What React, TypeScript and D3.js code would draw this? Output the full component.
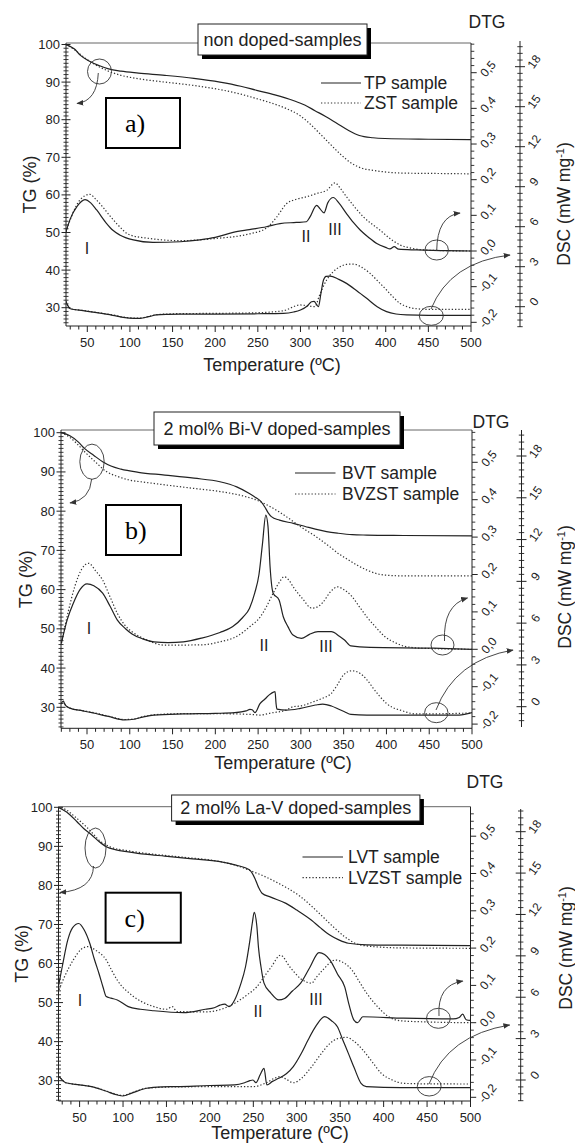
import * as d3 from 'd3'

type Pt = [number, number]

// ---- tick labels ----
const xTickVals = [50, 100, 150, 200, 250, 300, 350, 400, 450, 500]
const tgTickVals = [30, 40, 50, 60, 70, 80, 90, 100]
const dtgTickVals = [-0.2, -0.1, 0, 0.1, 0.2, 0.3, 0.4, 0.5]
const dscTickVals = [0, 3, 6, 9, 12, 15, 18]

// ---- panel a) non doped ----
const titleA = 'non doped-samples'
const legendA = ['TP sample', 'ZST sample']
const tgA_TP: Pt[] = [[25,100],[35,98.8],[42,97.1],[52,95.6],[63.7,94.4],[75,93.5],[89.5,92.9],[110,92.4],[141,91.8],[175,91],[205.6,90],[230,88.9],[248.6,87.8],[270,86.6],[291.5,85.1],[305,83.9],[317,82.4],[330,80.8],[343,79],[356,77.2],[369,75.8],[385,75.2],[399,75.0],[450,74.8],[500,74.7]]
const tgA_ZST: Pt[] = [[25,100],[35,98.6],[45,96.8],[55,95.2],[63.7,94.1],[75,92.9],[89.5,91.8],[110,90.9],[141,90.0],[175,89.1],[205.6,88],[230,86.8],[248.6,85.6],[265,84.5],[283,83],[300,81],[313,78.5],[324,76],[334,73.7],[347,70.8],[360,68.4],[372,67.1],[386,66.5],[420,65.8],[460,65.7],[500,65.6]]
const dtgA_TP: Pt[] = [[25,0.054],[30,0.09],[38,0.125],[47.3,0.144],[54,0.135],[61,0.115],[72.7,0.077],[80,0.058],[88,0.045],[104,0.031],[127,0.024],[159,0.026],[182,0.031],[200,0.038],[221,0.052],[240,0.06],[260,0.068],[276,0.077],[295,0.08],[307,0.082],[311,0.095],[319,0.128],[323,0.118],[327.6,0.107],[332,0.135],[338.5,0.15],[345,0.135],[354,0.105],[362,0.08],[370,0.059],[380,0.038],[389.5,0.021],[400,0.01],[405,0.006],[410,0.012],[415,0.005],[436,0.003],[470,0.001],[500,0]]
const dtgA_ZST: Pt[] = [[25,0.054],[32,0.1],[42,0.145],[53,0.159],[60,0.145],[68,0.124],[76,0.1],[84.4,0.077],[100,0.045],[123.5,0.035],[159,0.029],[200,0.035],[240,0.048],[260,0.064],[272,0.095],[283.8,0.133],[295,0.145],[307,0.152],[320,0.162],[330.7,0.17],[340.5,0.191],[347,0.175],[354,0.152],[363,0.125],[373.7,0.096],[393,0.059],[405,0.035],[416.7,0.017],[430,0.008],[444,0.003],[470,0.001],[500,0]]
const dscA_TP: Pt[] = [[25,0.4],[27,0.1],[30,-0.15],[45,-0.3],[61,-0.45],[80,-0.65],[92,-0.8],[105,-0.87],[112,-0.87],[122,-0.75],[131,-0.62],[145,-0.57],[159,-0.55],[200,-0.55],[250,-0.53],[280,-0.5],[292,-0.4],[300,-0.25],[308,0.05],[313,0.37],[316,0.4],[319,0.15],[321,0],[324,1.0],[327,2.0],[330,2.28],[334.6,2.3],[345,2.05],[354,1.75],[366,1.2],[377.6,0.63],[390,0],[401,-0.37],[412,-0.55],[424.6,-0.62],[450,-0.65],[500,-0.65]]
const dscA_ZST: Pt[] = [[25,0.4],[27,0.1],[30,-0.15],[45,-0.28],[61,-0.43],[80,-0.62],[92,-0.78],[105,-0.85],[112,-0.85],[122,-0.72],[131,-0.6],[159,-0.52],[200,-0.5],[250,-0.45],[280,-0.3],[299.5,0.13],[310,0.05],[317,0],[322,0.8],[330.7,2.0],[338,2.6],[346.4,3.0],[354,3.17],[362,3.2],[372,2.95],[381.6,2.5],[391,1.9],[401,1.25],[409,0.7],[416.7,0.25],[425,0],[432,-0.12],[450,-0.2],[500,-0.2]]

// ---- panel b) Bi-V doped ----
const titleB = '2 mol% Bi-V doped-samples'
const legendB = ['BVT sample', 'BVZST sample']
const tgB_BVT: Pt[] = [[20,100],[30,99.2],[40,97.6],[47,96.0],[58,94.2],[68.3,92.6],[78,91.5],[89.7,90.7],[110,89.9],[141,89.2],[175,88.4],[205.4,87.5],[225,86.2],[239.8,84.5],[247,83.5],[252.6,82.6],[258,81],[262,79.5],[265.5,78.6],[275,77.7],[291.2,76.9],[305,76.1],[316.9,75.4],[330,74.8],[342.6,74.4],[360,74.0],[377,73.9],[420,73.8],[500,73.7]]
const tgB_BVZST: Pt[] = [[20,100],[30,98.8],[40,96.8],[47,95.2],[60,92.5],[72.6,90.1],[85,88.9],[98.3,88.0],[120,87.3],[141,86.7],[175,85.8],[205.4,85.0],[230,84],[248.4,82.8],[262,81.4],[274,79.9],[287,78.0],[299.8,76.0],[317,73.6],[334,70.9],[345,69.0],[355.5,67.6],[366,66.2],[377,65.0],[390,64.0],[398,63.7],[420,63.5],[500,63.5]]
const dtgB_BVT: Pt[] = [[20,0.016],[27,0.08],[34,0.123],[42,0.16],[50,0.175],[58,0.17],[68.3,0.15],[77,0.115],[85.5,0.078],[95,0.055],[102.6,0.041],[115,0.028],[128.3,0.02],[145,0.018],[162.6,0.02],[184,0.03],[205.4,0.045],[220,0.06],[232,0.085],[240,0.11],[246,0.15],[251,0.2],[255,0.28],[259,0.359],[261.5,0.33],[264,0.22],[267.6,0.15],[274.5,0.132],[279.4,0.087],[285,0.06],[290.8,0.038],[300.6,0.029],[310,0.04],[320,0.047],[335.6,0.047],[345,0.035],[351,0.025],[358.5,0.009],[381,0.005],[454.7,0.003],[500,0]]
const dtgB_BVZST: Pt[] = [[20,0.016],[28,0.1],[36,0.17],[44,0.215],[52,0.23],[60,0.21],[68.3,0.185],[77,0.14],[85.5,0.096],[94,0.065],[102.6,0.047],[120,0.025],[141,0.011],[184,0.012],[205.4,0.02],[227,0.037],[240,0.06],[252.6,0.087],[260,0.115],[267.6,0.15],[275,0.18],[280.5,0.194],[286,0.185],[291,0.167],[302,0.135],[312.6,0.11],[318,0.112],[325.5,0.125],[335,0.155],[342.7,0.167],[350,0.16],[359.8,0.141],[368,0.115],[377,0.087],[388,0.058],[398,0.034],[410,0.018],[419.8,0.009],[440,0.003],[500,0]]
const dscB_BVT: Pt[] = [[20,0.2],[22,0.4],[25,0.1],[30,-0.1],[45,-0.3],[55.5,-0.43],[75,-0.7],[94,-0.95],[105,-0.9],[115,-0.75],[128,-0.6],[162.6,-0.52],[200,-0.48],[222.6,-0.43],[236,-0.3],[240.5,-0.19],[243,-0.22],[246.3,-0.43],[252,0.2],[258,0.55],[263,0.85],[268,1.05],[269.8,1.08],[271,0.2],[272,-0.17],[283,-0.25],[299.5,-0.12],[317,0.12],[325.5,0.19],[335.6,0.05],[345,-0.2],[351,-0.36],[358.5,-0.55],[377,-0.6],[485,-0.6],[500,-0.43]]
const dscB_BVZST: Pt[] = [[20,0.2],[22,0.4],[25,0.1],[30,-0.1],[45,-0.28],[55.5,-0.4],[75,-0.68],[94,-0.92],[105,-0.88],[115,-0.72],[128,-0.58],[162.6,-0.5],[200,-0.5],[240,-0.55],[252,-0.6],[265,-0.45],[283,-0.24],[291,0.0],[299.5,0.05],[315,0.36],[325,0.6],[335.6,0.96],[343,1.6],[349.8,2.28],[359.4,2.58],[369,2.4],[377,1.95],[384.6,1.32],[392,0.75],[400,0.24],[407,-0.05],[415.8,-0.24],[435,-0.52],[470,-0.5],[500,-0.45]]

// ---- panel c) La-V doped ----
const titleC = '2 mol% La-V doped-samples'
const legendC = ['LVT sample', 'LVZST sample']
const tgC_LVT: Pt[] = [[25,100],[35,98.8],[47,96.3],[55,94.5],[64,92.9],[72,91.3],[80.7,89.9],[92,89.1],[106,88.6],[125,88.0],[148,87.5],[180,86.8],[211.6,86.1],[230,85.2],[245.5,84.0],[251.8,81.8],[256,79.5],[260,78.0],[270,77.0],[287.6,75.4],[300,73.7],[317,71.1],[327,69.2],[338,67.3],[349,66.0],[359.4,65.2],[380.5,64.8],[420,64.7],[500,64.6]]
const tgC_LVZST: Pt[] = [[25,100],[35,99.3],[45,97.5],[55.4,95.5],[64,93.6],[72.3,91.6],[85,89.9],[105,88.9],[127,88.2],[170,87.2],[211.6,86.1],[232,85],[249.6,83.5],[262,82.4],[275,81.0],[290,79.2],[304.5,77.1],[317,74.7],[329.8,72.0],[342,69.4],[355,66.9],[367,65.2],[380.5,64.5],[420,64.0],[500,63.9]]
const dtgC_LVT: Pt[] = [[25,0.09],[30,0.15],[36.4,0.222],[42,0.255],[49,0.266],[55,0.25],[61.7,0.213],[67,0.17],[72.3,0.132],[77,0.095],[80.7,0.07],[86,0.066],[93.4,0.061],[106,0.043],[120,0.036],[135.6,0.032],[169.5,0.027],[194.8,0.036],[205,0.04],[211.6,0.047],[217,0.05],[222,0.043],[228.5,0.061],[235,0.1],[241,0.15],[246,0.22],[249,0.27],[251,0.296],[254,0.26],[256,0.2],[258.8,0.15],[262.3,0.106],[270,0.08],[279.2,0.061],[286,0.065],[295,0.085],[304.5,0.106],[315,0.148],[325.6,0.188],[332,0.183],[338.3,0.168],[347,0.13],[355.2,0.096],[360,0.05],[365.8,0.007],[370,0],[376,0.016],[422.7,0.012],[480,0.01],[487,0.014],[491,0.023],[495,0.008],[500,0.006]]
const dtgC_LVZST: Pt[] = [[25,0.08],[32,0.12],[42.7,0.168],[52,0.197],[59.7,0.204],[68,0.195],[80.7,0.168],[87,0.14],[93.4,0.114],[110,0.074],[135.6,0.043],[150,0.036],[156.7,0.043],[162,0.03],[194.8,0.029],[228.5,0.052],[243,0.075],[253.9,0.096],[263,0.125],[270.8,0.15],[281.3,0.181],[291.9,0.15],[304.5,0.118],[317.2,0.106],[322,0.12],[329.8,0.141],[344.5,0.168],[352,0.163],[363.6,0.141],[372,0.11],[380.5,0.079],[393,0.043],[405.8,0.016],[420,0.005],[450,0.002],[500,0]]
const dscC_LVT: Pt[] = [[25,0.3],[27,0.2],[34,-0.2],[50,-0.35],[64,-0.48],[80,-0.8],[93.4,-1.09],[99.8,-1.16],[110,-0.95],[127,-0.6],[145,-0.5],[162,-0.48],[200,-0.4],[228.5,-0.36],[240,-0.2],[246,-0.05],[249.6,0],[253,-0.2],[258,0.4],[262.3,0.85],[265.6,-0.36],[272,-0.1],[279.2,0.12],[288,0.45],[296,0.97],[305,1.9],[313,2.9],[322,3.9],[332,4.59],[340,4.3],[346.8,3.86],[353,2.9],[359.4,1.93],[366,0.9],[374,-0.24],[380,-0.48],[420,-0.55],[500,-0.55]]
const dscC_LVZST: Pt[] = [[25,0.3],[27,0.2],[34,-0.2],[50,-0.35],[64,-0.48],[80,-0.78],[93.4,-1.05],[99.8,-1.12],[110,-0.92],[127,-0.6],[162,-0.5],[228.5,-0.48],[249.6,-0.48],[265,-0.2],[275,0.15],[281,0.24],[288,0.05],[296,-0.2],[305,0.1],[317.2,0.97],[328,1.9],[338.3,2.66],[347,3.0],[357.4,3.09],[366,2.8],[376.2,2.17],[387,1.3],[397.4,0.48],[410,0],[422.7,-0.24],[450,-0.28],[500,-0.29]]

const romans = ['I', 'II', 'III']

type Box = { x: number; y: number; w: number; h: number }
type Layout = {
  left: number; right: number; top: number; bottom: number
  x50: number; x500: number; tg30: number; tg100: number
  dtg0: number; dtg05: number; dsc0: number; dsc18: number
  dscX: number; dscTop: number; dscBottom: number
  titleBox: Box; letterBox: Box
  legX1: number; legX2: number; legY: [number, number]; legTx: number
  dtgLab: [number, number]; tempLab: [number, number]; tgLabX: number; dscLab: [number, number]
  romanPos: Pt[]
  ell: { cx: number; cy: number; rx: number; ry: number }[]
  arrows: string[]
}

const layA: Layout = {
  left: 66, right: 471, top: 43, bottom: 326,
  x50: 87.3, x500: 471, tg30: 307.7, tg100: 44.5,
  dtg0: 251, dtg05: 72.7, dsc0: 306.7, dsc18: 66.7,
  dscX: 520, dscTop: 41, dscBottom: 327,
  titleBox: { x: 198, y: 24, w: 169, h: 31 }, letterBox: { x: 106, y: 98, w: 74, h: 50 },
  legX1: 321, legX2: 361, legY: [83, 103], legTx: 364,
  dtgLab: [487, 28], tempLab: [272, 371], tgLabX: 30, dscLab: [564, 204],
  romanPos: [[87, 248], [306, 236], [335, 229]],
  ell: [{ cx: 99.5, cy: 71.5, rx: 12, ry: 12.5 }, { cx: 436.7, cy: 250, rx: 11.7, ry: 10 }, { cx: 431.3, cy: 315.8, rx: 12, ry: 9.5 }],
  arrows: ['M98.3,73 Q97,101 77,103.5', 'M436.7,251 Q437,216 460,213', 'M431,309 Q450,262 510,255'],
}
const layB: Layout = {
  left: 61, right: 472, top: 430, bottom: 728.3,
  x50: 87, x500: 472, tg30: 707.3, tg100: 432.7,
  dtg0: 649.3, dtg05: 462.3, dsc0: 706.7, dsc18: 456,
  dscX: 521.5, dscTop: 430, dscBottom: 727,
  titleBox: { x: 154, y: 412, w: 246, h: 33 }, letterBox: { x: 106, y: 505, w: 75, h: 50 },
  legX1: 295, legX2: 335.5, legY: [473, 494], legTx: 342,
  dtgLab: [491, 428], tempLab: [283, 769], tgLabX: 26, dscLab: [565, 587],
  romanPos: [[89, 628], [264, 645], [326, 646]],
  ell: [{ cx: 92, cy: 461.7, rx: 12.2, ry: 17.6 }, { cx: 442.5, cy: 645, rx: 11.5, ry: 10 }, { cx: 436.3, cy: 712.7, rx: 11.7, ry: 10 }],
  arrows: ['M91.7,479 Q90,500 70,503', 'M444.5,641 Q443,605 467.5,598', 'M436,710 Q455,660 513,650'],
}
const layC: Layout = {
  left: 58.5, right: 470.5, top: 806.7, bottom: 1101,
  x50: 79.6, x500: 470.5, tg30: 1080.7, tg100: 807.3,
  dtg0: 1022.7, dtg05: 836.2, dsc0: 1080, dsc18: 831.7,
  dscX: 520.7, dscTop: 809, dscBottom: 1101,
  titleBox: { x: 171.6, y: 795, w: 248.3, h: 26 }, letterBox: { x: 105.6, y: 892.7, w: 75.2, h: 50 },
  legX1: 302.5, legX2: 343, legY: [857, 877.7], legTx: 348,
  dtgLab: [485, 788], tempLab: [280, 1139], tgLabX: 22, dscLab: [566, 948],
  romanPos: [[80, 1000], [258, 1011], [316, 999]],
  ell: [{ cx: 95.5, cy: 848, rx: 10.5, ry: 20 }, { cx: 438.4, cy: 1018.3, rx: 11.9, ry: 10 }, { cx: 429.2, cy: 1086.3, rx: 11.9, ry: 9.7 }],
  arrows: ['M93.5,866 Q93,890 60,892.5', 'M439,1016 Q437,985 462.8,981', 'M429,1084 Q448,1035 509.7,1025'],
}

type PanelData = {
  id: string; title: string; letter: string; legend: string[]
  tg: [Pt[], Pt[]]; dtg: [Pt[], Pt[]]; dsc: [Pt[], Pt[]]
}

const panels: [Layout, PanelData][] = [
  [layA, { id: 'a', title: titleA, letter: 'a)', legend: legendA, tg: [tgA_TP, tgA_ZST], dtg: [dtgA_TP, dtgA_ZST], dsc: [dscA_TP, dscA_ZST] }],
  [layB, { id: 'b', title: titleB, letter: 'b)', legend: legendB, tg: [tgB_BVT, tgB_BVZST], dtg: [dtgB_BVT, dtgB_BVZST], dsc: [dscB_BVT, dscB_BVZST] }],
  [layC, { id: 'c', title: titleC, letter: 'c)', legend: legendC, tg: [tgC_LVT, tgC_LVZST], dtg: [dtgC_LVT, dtgC_LVZST], dsc: [dscC_LVT, dscC_LVZST] }],
]

const SANS = 'Liberation Sans, Arial, sans-serif'
const INK = '#222'
const fmtComma = (v: number) => d3.format('.1f')(v).replace('.', ',').replace('−', '-')

function Panel({ L, P }: { L: Layout; P: PanelData }) {
  const x = d3.scaleLinear().domain([50, 500]).range([L.x50, L.x500])
  const yTG = d3.scaleLinear().domain([30, 100]).range([L.tg30, L.tg100])
  const yDTG = d3.scaleLinear().domain([0, 0.5]).range([L.dtg0, L.dtg05])
  const yDSC = d3.scaleLinear().domain([0, 18]).range([L.dsc0, L.dsc18])

  const tMin = x.invert(L.left)
  const tgLo = yTG.invert(L.bottom), tgHi = yTG.invert(L.top)
  const dtgLo = yDTG.invert(L.bottom), dtgHi = yDTG.invert(L.top)
  const dscLo = yDSC.invert(L.dscBottom), dscHi = yDSC.invert(L.dscTop)

  const xMinor = d3.range(Math.ceil(tMin / 10) * 10, 501, 10).filter(v => v % 50 !== 0)
  const tgMinor = d3.range(Math.ceil(tgLo), Math.floor(tgHi) + 1).filter(v => v % 10 !== 0)
  const dtgMinor = d3.range(Math.ceil(dtgLo * 50), Math.floor(dtgHi * 50) + 1).filter(v => v % 5 !== 0).map(v => v / 50)
  const dscMinor = d3.range(Math.ceil(dscLo * 2), Math.floor(dscHi * 2) + 1).filter(v => v % 6 !== 0).map(v => v / 2)

  const line = (ys: d3.ScaleLinear<number, number>) =>
    d3.line<Pt>().x(d => x(d[0])).y(d => ys(d[1])).curve(d3.curveMonotoneX)
  const lTG = line(yTG), lDTG = line(yDTG), lDSC = line(yDSC)
  const clip = `clip-${P.id}`
  const tb = L.titleBox, lb = L.letterBox

  return (
    <g>
      <defs>
        <clipPath id={clip}>
          <rect x={L.left} y={L.top} width={L.right - L.left} height={L.bottom - L.top} />
        </clipPath>
      </defs>

      {/* curves */}
      <g clipPath={`url(#${clip})`} fill="none">
        {[P.tg, P.dtg, P.dsc].map((pair, k) => {
          const gen = [lTG, lDTG, lDSC][k]
          return (
            <g key={k}>
              <path d={gen(pair[1]) || ''} stroke="#333" strokeWidth={1.2} strokeDasharray="1.3 2" />
              <path d={gen(pair[0]) || ''} stroke={INK} strokeWidth={1.2} />
            </g>
          )
        })}
      </g>

      {/* frame */}
      <line x1={L.left} x2={L.right} y1={L.top} y2={L.top} stroke="#666" strokeWidth={1} />
      <line x1={L.left} x2={L.left} y1={L.top} y2={L.bottom} stroke={INK} strokeWidth={1} />
      <line x1={L.left} x2={L.right} y1={L.bottom} y2={L.bottom} stroke={INK} strokeWidth={1} />
      <line x1={L.right} x2={L.right} y1={L.top} y2={L.bottom} stroke={INK} strokeWidth={1} />

      {/* x axis */}
      {xMinor.map(v => <line key={'xm' + v} x1={x(v)} x2={x(v)} y1={L.bottom} y2={L.bottom + 3.5} stroke={INK} />)}
      {xTickVals.map(v => (
        <g key={'x' + v}>
          <line x1={x(v)} x2={x(v)} y1={L.bottom} y2={L.bottom + 6} stroke={INK} />
          <text x={x(v)} y={L.bottom + 21} textAnchor="middle" fontSize={13} fontFamily={SANS} fill={INK}>{v}</text>
        </g>
      ))}

      {/* TG axis */}
      {tgMinor.map(v => <line key={'tm' + v} x1={L.left - 2.5} x2={L.left + 2.5} y1={yTG(v)} y2={yTG(v)} stroke={INK} strokeWidth={0.9} />)}
      {tgTickVals.map(v => (
        <g key={'t' + v}>
          <line x1={L.left - 4.5} x2={L.left + 4.5} y1={yTG(v)} y2={yTG(v)} stroke={INK} />
          <text x={L.left - 6} y={yTG(v) + 4.5} textAnchor="end" fontSize={13} fontFamily={SANS} fill={INK}>{v}</text>
        </g>
      ))}

      {/* DTG axis */}
      {dtgMinor.map(v => <line key={'dm' + v} x1={L.right} x2={L.right + 3.3} y1={yDTG(v)} y2={yDTG(v)} stroke={INK} strokeWidth={0.9} />)}
      {dtgTickVals.map(v => (
        <g key={'d' + v}>
          <line x1={L.right} x2={L.right + 5.7} y1={yDTG(v)} y2={yDTG(v)} stroke={INK} />
          <text transform={`translate(${L.right + 17},${yDTG(v) - 4}) rotate(-50)`} textAnchor="middle" dy="0.35em"
            fontSize={12} fontFamily={SANS} fill={INK}>{fmtComma(v)}</text>
        </g>
      ))}

      {/* DSC axis */}
      <line x1={L.dscX} x2={L.dscX} y1={L.dscTop} y2={L.dscBottom} stroke={INK} />
      {dscMinor.map(v => <line key={'sm' + v} x1={L.dscX - 2.7} x2={L.dscX + 2.7} y1={yDSC(v)} y2={yDSC(v)} stroke={INK} strokeWidth={0.9} />)}
      {dscTickVals.map(v => (
        <g key={'s' + v}>
          <line x1={L.dscX - 5} x2={L.dscX + 5} y1={yDSC(v)} y2={yDSC(v)} stroke={INK} />
          <text transform={`translate(${L.dscX + 14},${yDSC(v) - 5}) rotate(-55)`} textAnchor="middle" dy="0.35em"
            fontSize={12} fontFamily={SANS} fill={INK}>{v}</text>
        </g>
      ))}

      {/* axis titles */}
      <text x={L.dtgLab[0]} y={L.dtgLab[1]} textAnchor="middle" fontSize={17.5} fontFamily={SANS} fill={INK}>DTG</text>
      <text x={L.tempLab[0]} y={L.tempLab[1]} textAnchor="middle" fontSize={18} fontFamily={SANS} fill={INK}>Temperature (ºC)</text>
      <text transform={`translate(${L.tgLabX},${(L.top + L.bottom) / 2}) rotate(-90)`} textAnchor="middle" dy="0.35em"
        fontSize={18} fontFamily={SANS} fill={INK}>TG (%)</text>
      <text transform={`translate(${L.dscLab[0]},${L.dscLab[1]}) rotate(-90)`} textAnchor="middle" dy="0.35em"
        fontSize={17.5} fontFamily={SANS} fill={INK}>
        DSC (mW mg<tspan dy={-6} fontSize={11}>-1</tspan><tspan dy={6}>)</tspan>
      </text>

      {/* title box with shadow */}
      <rect x={tb.x + 4} y={tb.y + 4} width={tb.w} height={tb.h} fill="#000" />
      <rect x={tb.x} y={tb.y} width={tb.w} height={tb.h} fill="#fff" stroke={INK} strokeWidth={1} />
      <text x={tb.x + tb.w / 2} y={tb.y + tb.h / 2} dy="0.35em" textAnchor="middle" fontSize={18} fontFamily={SANS} fill={INK}>{P.title}</text>

      {/* letter box */}
      <rect x={lb.x} y={lb.y} width={lb.w} height={lb.h} fill="#fff" stroke="#000" strokeWidth={2} />
      <text x={lb.x + 19} y={lb.y + lb.h / 2 + 9} fontSize={26} fontFamily="Liberation Serif, Times New Roman, serif" fill="#000">{P.letter}</text>

      {/* legend */}
      <line x1={L.legX1} x2={L.legX2} y1={L.legY[0]} y2={L.legY[0]} stroke={INK} strokeWidth={1.2} />
      <line x1={L.legX1} x2={L.legX2} y1={L.legY[1]} y2={L.legY[1]} stroke="#333" strokeWidth={1.2} strokeDasharray="1.3 2" />
      {P.legend.map((s, i) => (
        <text key={s} x={L.legTx} y={L.legY[i]} dy="0.35em" fontSize={17.5} fontFamily={SANS} fill={INK}>{s}</text>
      ))}

      {/* roman labels */}
      {romans.map((r, i) => (
        <text key={r} x={L.romanPos[i][0]} y={L.romanPos[i][1]} dy="0.35em" textAnchor="middle" fontSize={16} fontFamily={SANS} fill={INK}>{r}</text>
      ))}

      {/* annotations */}
      {L.ell.map((e, i) => <ellipse key={'e' + i} cx={e.cx} cy={e.cy} rx={e.rx} ry={e.ry} fill="none" stroke="#333" strokeWidth={0.9} />)}
      {L.arrows.map((d, i) => <path key={'a' + i} d={d} fill="none" stroke="#333" strokeWidth={0.9} markerEnd="url(#ah)" />)}
    </g>
  )
}

export default function App() {
  return (
    <svg width={575} height={1144} viewBox="0 0 575 1144"
      style={{ position: 'absolute', left: 0, top: 0, display: 'block', background: '#fff' }}>
      <defs>
        <marker id="ah" viewBox="0 0 10 10" refX={9} refY={5} markerWidth={7} markerHeight={7}
          markerUnits="userSpaceOnUse" orient="auto">
          <path d="M0,1 L10,5 L0,9 z" fill="#333" />
        </marker>
      </defs>
      <rect width={575} height={1144} fill="#fff" />
      {panels.map(([L, P]) => <Panel key={P.id} L={L} P={P} />)}
    </svg>
  )
}
